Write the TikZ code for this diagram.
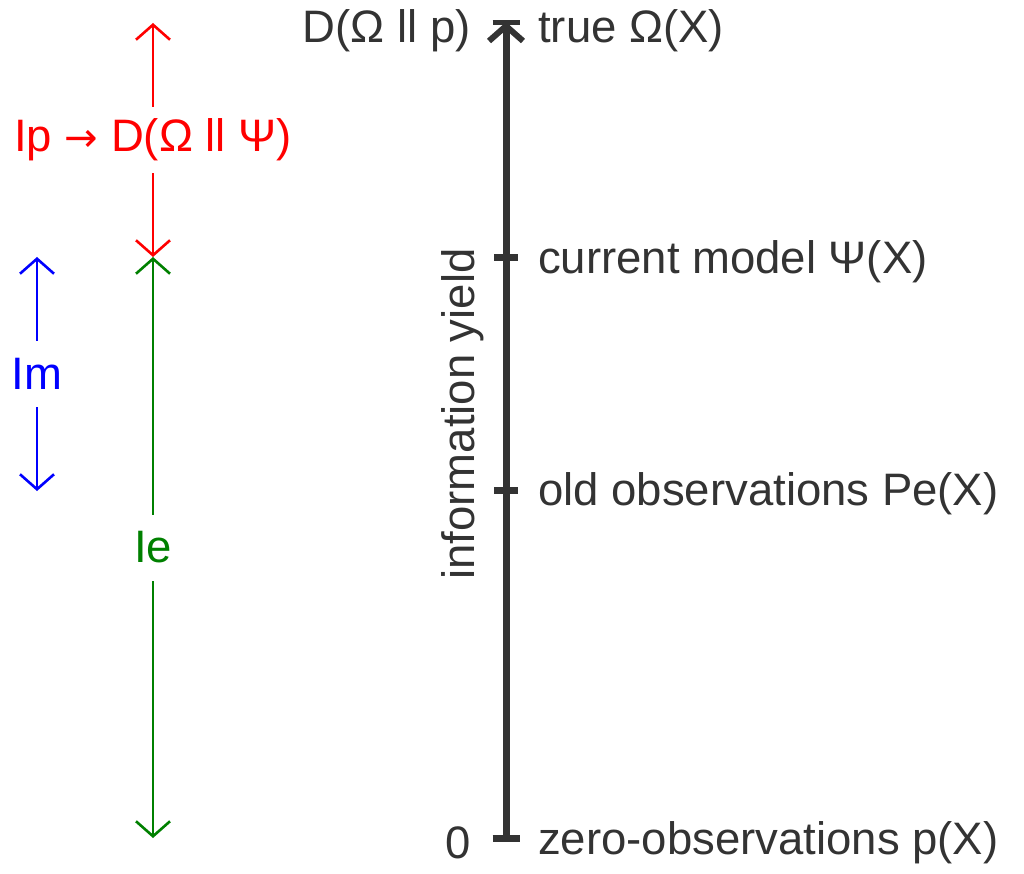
\documentclass[tikz,border=0pt]{standalone}
\usepackage{fontspec}
\setmainfont{Liberation Sans}
\newfontfamily\arrowfont{DejaVu Sans}
\usetikzlibrary{arrows.meta}
\definecolor{ink}{HTML}{333333}
\definecolor{gr}{HTML}{008000}
\tikzset{
  lbl/.style={font=\fontsize{45.5}{52}\selectfont, text=ink, inner sep=0pt},
  dim/.style={line width=2.8pt, {Straight Barb[length=15pt,width=34pt,line width=2.6pt]}-{Straight Barb[length=15pt,width=34pt,line width=2.6pt]}},
  dimlbl/.style={font=\fontsize{45.5}{52}\selectfont, fill=white, inner sep=0pt, minimum height=66pt},
  axis/.style={line width=7pt, draw=ink},
  tick/.style={line width=7pt, draw=ink}
}
\begin{document}
\begin{tikzpicture}[x=1pt,y=-1pt]
\useasboundingbox (0,0) rectangle (1024,874);
% axis
\coordinate (a0) at (506,838);
\coordinate (atop) at (506,22.5);
\coordinate (t1) at (506,258);
\coordinate (t2) at (506,490);
\coordinate (tip) at (506,26);
\coordinate (barbl) at (489,41);
\coordinate (barbr) at (523,41);
\draw[axis] (a0) -- (atop);
\draw[tick] ([xshift=-13.5pt]a0) -- ([xshift=13.5pt]a0);
\draw[tick] ([xshift=-12pt]t1) -- ([xshift=12pt]t1);
\draw[tick] ([xshift=-12pt]t2) -- ([xshift=12pt]t2);
\draw[tick, line width=5.5pt] ([xshift=-13.5pt]atop) -- ([xshift=13.5pt]atop);
\draw[axis, line width=6pt, miter limit=10] (barbl) -- (tip) -- (barbr);
% labels
\node[lbl, anchor=west] (ltrue) at (538,31) {true Ω(X)};
\node[lbl, anchor=east] (ldp) at (471,31) {D(Ω ll p)};
\node[lbl, anchor=west] (lcur) at (538,262) {current model Ψ(X)};
\node[lbl, anchor=west] (lold) at (538,494) {old observations Pe(X)};
\node[lbl, anchor=west] (lzero) at (538,843) {zero-observations p(X)};
\node[lbl, anchor=east] (lzer) at (471,843) {0};
\node[lbl, rotate=90] (lyield) at (463,414) {information yield};
% dimension arrows
\coordinate (r1) at (153,23);
\coordinate (r2) at (153,257);
\coordinate (g2) at (153,838);
\coordinate (b1) at (37,257);
\coordinate (b2) at (37,491);
\draw[dim, red] (r2) -- node[dimlbl, text=red] (lip) {Ip {\arrowfont\fontsize{40}{50}\selectfont →} D(Ω ll Ψ)} (r1);
\draw[dim, gr] (r2) -- node[dimlbl, text=gr] (lie) {Ie} (g2);
\draw[dim, blue] (b1) -- node[dimlbl, text=blue] (lim) {Im} (b2);
\end{tikzpicture}
\end{document}
